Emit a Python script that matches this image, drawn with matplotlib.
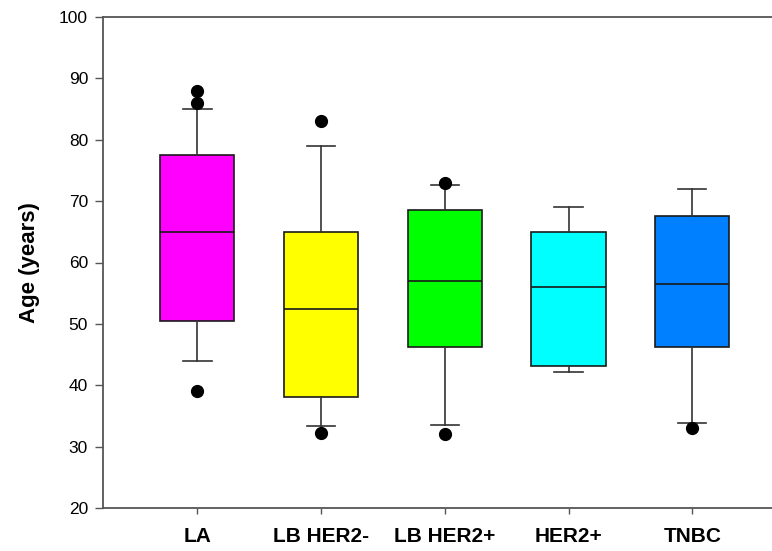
import matplotlib
matplotlib.use("Agg")
import matplotlib.pyplot as plt

plt.rcParams['font.family'] = ['Liberation Sans', 'DejaVu Sans']

# subtype groups and box statistics
groups = ['LA', 'LB HER2-', 'LB HER2+', 'HER2+', 'TNBC']
whisker_low = [44, 33.3, 33.6, 42.2, 33.8]
q1 = [50.5, 38.1, 46.3, 43.1, 46.3]
median = [65, 52.5, 57, 56, 56.5]
q3 = [77.5, 65, 68.5, 65, 67.5]
whisker_high = [85, 79, 72.6, 69, 72]
outliers = [[88, 86, 39], [83, 32.2], [73, 32.1], [], [33.1]]
colors = ['#FF00FF', '#FFFF00', '#00FF00', '#00FFFF', '#0080FF']

stats = []
for i, name in enumerate(groups):
    stats.append({
        'label': name,
        'whislo': whisker_low[i],
        'q1': q1[i],
        'med': median[i],
        'q3': q3[i],
        'whishi': whisker_high[i],
        'fliers': outliers[i],
    })

fig = plt.figure(figsize=(7.72, 5.51), dpi=100)
# axes run past the right edge, as in the cropped original
ax = fig.add_axes([103.3 / 772, 43 / 551, 683 / 772, 491 / 551])

bp = ax.bxp(stats, positions=range(1, len(groups) + 1), widths=0.6,
            capwidths=0.23, patch_artist=True,
            boxprops=dict(edgecolor='#1a1a1a', linewidth=1.2),
            medianprops=dict(color='#1a1a1a', linewidth=1.2),
            whiskerprops=dict(color='#333333', linewidth=1.2),
            capprops=dict(color='#333333', linewidth=1.2),
            flierprops=dict(marker='o', markerfacecolor='black',
                            markeredgecolor='black', markersize=8.5))
for patch, c in zip(bp['boxes'], colors):
    patch.set_facecolor(c)

ax.set_xlim(0.24, 5.76)
ax.set_ylim(20, 100)
ax.set_yticks(range(20, 101, 10))
ax.set_ylabel('Age (years)', fontsize=16, fontweight='bold', labelpad=14)

ax.spines['right'].set_visible(False)
for side in ['left', 'top', 'bottom']:
    ax.spines[side].set_color('#555555')
    ax.spines[side].set_linewidth(1.3)

ax.tick_params(axis='y', direction='out', length=6, width=1.0,
               color='#555555', labelsize=12.5, pad=5)
ax.tick_params(axis='x', direction='out', length=4, width=1.0,
               color='#555555', labelsize=15, pad=10)
for lbl in ax.get_xticklabels():
    lbl.set_fontweight('bold')

fig.savefig('out.png', dpi=100)
